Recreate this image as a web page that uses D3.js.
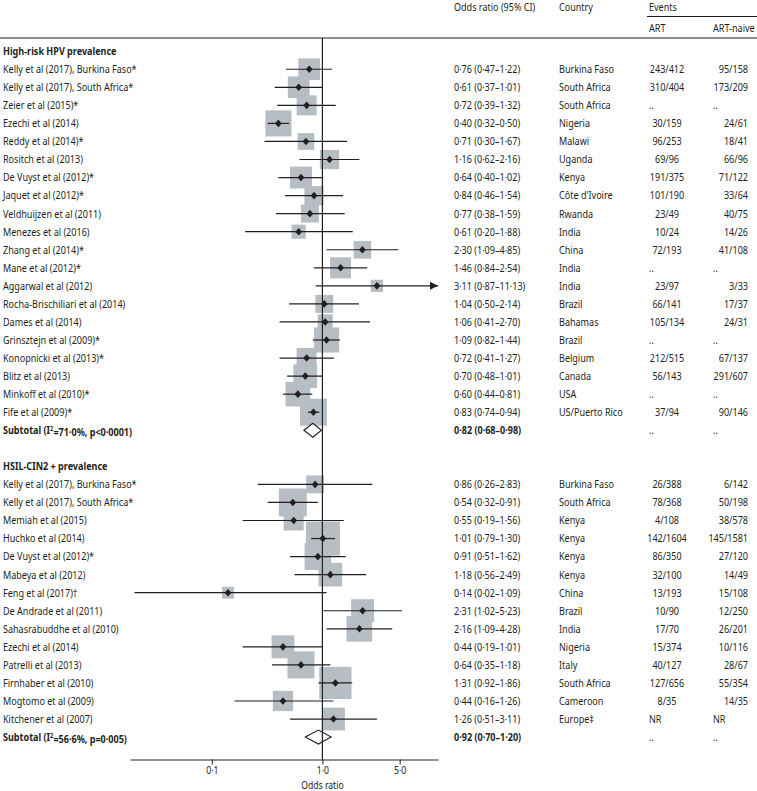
<!DOCTYPE html>
<html>
<head>
<meta charset="utf-8">
<script src="https://cdn.jsdelivr.net/npm/d3@7"></script>
<style>
  body { margin: 0; background: #fff; }
  svg { display: block; }
  text { font-family: "Noto Sans", "Open Sans", sans-serif; font-size: 11px; fill: #231f20; }
  .bold { font-weight: bold; }
  .axis-text { font-size: 10.5px; }
</style>
</head>
<body>
<div id="chart"></div>
<script>
// ---- data ----
var hpvStudies = [
  { study: "Kelly et al (2017), Burkina Faso*", or: 0.76, lo: 0.47, hi: 1.22, country: "Burkina Faso", art: "243/412", naive: "95/158", weight: 4.7 },
  { study: "Kelly et al (2017), South Africa*", or: 0.61, lo: 0.37, hi: 1.01, country: "South Africa", art: "310/404", naive: "173/209", weight: 4.7 },
  { study: "Zeier et al (2015)*", or: 0.72, lo: 0.39, hi: 1.32, country: "South Africa", art: "..", naive: "..", weight: 4.0 },
  { study: "Ezechi et al (2014)", or: 0.40, lo: 0.32, hi: 0.50, country: "Nigeria", art: "30/159", naive: "24/61", weight: 6.8 },
  { study: "Reddy et al (2014)*", or: 0.71, lo: 0.30, hi: 1.67, country: "Malawi", art: "96/253", naive: "18/41", weight: 2.8 },
  { study: "Rositch et al (2013)", or: 1.16, lo: 0.62, hi: 2.16, country: "Uganda", art: "69/96", naive: "66/96", weight: 3.7 },
  { study: "De Vuyst et al (2012)*", or: 0.64, lo: 0.40, hi: 1.02, country: "Kenya", art: "191/375", naive: "71/122", weight: 4.8 },
  { study: "Jaquet et al (2012)*", or: 0.84, lo: 0.46, hi: 1.54, country: "Côte d'Ivoire", art: "101/190", naive: "33/64", weight: 3.7 },
  { study: "Veldhuijzen et al (2011)", or: 0.77, lo: 0.38, hi: 1.59, country: "Rwanda", art: "23/49", naive: "40/75", weight: 3.2 },
  { study: "Menezes et al (2016)", or: 0.61, lo: 0.20, hi: 1.88, country: "India", art: "10/24", naive: "14/26", weight: 2.0 },
  { study: "Zhang et al (2014)*", or: 2.30, lo: 1.09, hi: 4.85, country: "China", art: "72/193", naive: "41/108", weight: 3.1 },
  { study: "Mane et al (2012)*", or: 1.46, lo: 0.84, hi: 2.54, country: "India", art: "..", naive: "..", weight: 4.4 },
  { study: "Aggarwal et al (2012)", or: 3.11, lo: 0.87, hi: 11.13, country: "India", art: "23/97", naive: "3/33", weight: 1.5 },
  { study: "Rocha-Brischiliari et al (2014)", or: 1.04, lo: 0.50, hi: 2.14, country: "Brazil", art: "66/141", naive: "17/37", weight: 3.2 },
  { study: "Dames et al (2014)", or: 1.06, lo: 0.41, hi: 2.70, country: "Bahamas", art: "105/134", naive: "24/31", weight: 2.3 },
  { study: "Grinsztejn et al (2009)*", or: 1.09, lo: 0.82, hi: 1.44, country: "Brazil", art: "..", naive: "..", weight: 6.3 },
  { study: "Konopnicki et al (2013)*", or: 0.72, lo: 0.41, hi: 1.27, country: "Belgium", art: "212/515", naive: "67/137", weight: 4.0 },
  { study: "Blitz et al (2013)", or: 0.70, lo: 0.48, hi: 1.01, country: "Canada", art: "56/143", naive: "291/607", weight: 5.6 },
  { study: "Minkoff et al (2010)*", or: 0.60, lo: 0.44, hi: 0.81, country: "USA", art: "..", naive: "..", weight: 6.1 },
  { study: "Fife et al (2009)*", or: 0.83, lo: 0.74, hi: 0.94, country: "US/Puerto Rico", art: "37/94", naive: "90/146", weight: 7.3 }
];
var hpvSubtotal = { i2: "71·0%", p: "p<0·0001", or: 0.82, lo: 0.68, hi: 0.98 };

var cinStudies = [
  { study: "Kelly et al (2017), Burkina Faso*", or: 0.86, lo: 0.26, hi: 2.83, country: "Burkina Faso", art: "26/388", naive: "6/142", weight: 3.2 },
  { study: "Kelly et al (2017), South Africa*", or: 0.54, lo: 0.32, hi: 0.91, country: "South Africa", art: "78/368", naive: "50/198", weight: 7.8 },
  { study: "Memiah et al (2015)", or: 0.55, lo: 0.19, hi: 1.56, country: "Kenya", art: "4/108", naive: "38/578", weight: 4.0 },
  { study: "Huchko et al (2014)", or: 1.01, lo: 0.79, hi: 1.30, country: "Kenya", art: "142/1604", naive: "145/1581", weight: 11.6 },
  { study: "De Vuyst et al (2012)*", or: 0.91, lo: 0.51, hi: 1.62, country: "Kenya", art: "86/350", naive: "27/120", weight: 7.1 },
  { study: "Mabeya et al (2012)", or: 1.18, lo: 0.56, hi: 2.49, country: "Kenya", art: "32/100", naive: "14/49", weight: 5.6 },
  { study: "Feng et al (2017)†", or: 0.14, lo: 0.02, hi: 1.09, country: "China", art: "13/193", naive: "15/108", weight: 1.4 },
  { study: "De Andrade et al (2011)", or: 2.31, lo: 1.02, hi: 5.23, country: "Brazil", art: "10/90", naive: "12/250", weight: 5.3 },
  { study: "Sahasrabuddhe et al (2010)", or: 2.16, lo: 1.09, hi: 4.28, country: "India", art: "17/70", naive: "26/201", weight: 6.6 },
  { study: "Ezechi et al (2014)", or: 0.44, lo: 0.19, hi: 1.01, country: "Nigeria", art: "15/374", naive: "10/116", weight: 5.2 },
  { study: "Patrelli et al (2013)", or: 0.64, lo: 0.35, hi: 1.18, country: "Italy", art: "40/127", naive: "28/67", weight: 7.3 },
  { study: "Firnhaber et al (2010)", or: 1.31, lo: 0.92, hi: 1.86, country: "South Africa", art: "127/656", naive: "55/354", weight: 10.4 },
  { study: "Mogtomo et al (2009)", or: 0.44, lo: 0.16, hi: 1.26, country: "Cameroon", art: "8/35", naive: "14/35", weight: 4.1 },
  { study: "Kitchener et al (2007)", or: 1.26, lo: 0.51, hi: 3.11, country: "Europe‡", art: "NR", naive: "NR", weight: 5.2 }
];
var cinSubtotal = { i2: "56·6%", p: "p=0·005", or: 0.92, lo: 0.70, hi: 1.20 };

var sections = [
  { title: "High-risk HPV prevalence", studies: hpvStudies, subtotal: hpvSubtotal },
  { title: "HSIL-CIN2 + prevalence", studies: cinStudies, subtotal: cinSubtotal }
];

var axisTicks = [0.1, 1, 5];
var axisTickLabels = ["0·1", "1·0", "5·0"];

// ---- layout ----
var width = 757, height = 791;
var rowTop = 51.2, rowH = 18.05;
var col = { study: 3, or: 454, country: 559, artL: 649, artMid: 667, naiveL: 713, naiveR: 748 };
var axisY = 759.5;

var svg = d3.select("#chart").append("svg")
  .attr("width", width)
  .attr("height", height);

// the original uses a condensed face; squeeze the installed font to the same width
var probe = svg.append("text").text("Burkina Faso");
var sx = 55 / probe.node().getComputedTextLength();
probe.remove();

function label(g, xPos, yPos, str, anchor, cls) {
  var t = g.append("text")
    .attr("transform", "translate(" + xPos + "," + yPos + ") scale(" + sx + ",1)")
    .attr("dy", "0.35em")
    .attr("text-anchor", anchor || "start");
  if (cls) t.attr("class", cls);
  if (str !== null) t.text(str);
  return t;
}

var x = d3.scaleLog()
  .domain([0.0182, 11.1])
  .range([130, 438]);

var side = d3.scaleSqrt().domain([0, 1]).range([0, 10]);

function dec(v) { return d3.format(".2f")(v).replace(".", "·"); }
function ciText(d) { return dec(d.or) + " (" + dec(d.lo) + "–" + dec(d.hi) + ")"; }

// build flat row list
var rows = [];
sections.forEach(function(s, si) {
  if (si > 0) rows.push({ type: "blank" });
  rows.push({ type: "title", label: s.title });
  s.studies.forEach(function(d) { rows.push(Object.assign({ type: "study" }, d)); });
  rows.push(Object.assign({ type: "subtotal" }, s.subtotal));
});
rows.forEach(function(r, i) { r.y = rowTop + i * rowH; });

// ---- header ----
var head = svg.append("g");
label(head, col.or, 7, "Odds ratio (95% CI)");
label(head, col.country, 7, "Country");
label(head, col.artL, 7, "Events");
label(head, col.artL, 28, "ART");
label(head, col.naiveL, 28, "ART-naive");
head.append("line").attr("x1", 647).attr("x2", width).attr("y1", 16.5).attr("y2", 16.5)
  .attr("stroke", "#231f20").attr("stroke-width", 1);
head.append("line").attr("x1", 0).attr("x2", width).attr("y1", 38).attr("y2", 38)
  .attr("stroke", "#231f20").attr("stroke-width", 1.2);

// ---- study marks ----
var studyRows = rows.filter(function(r) { return r.type === "study"; });
var marks = svg.append("g");

// grey weight squares
marks.selectAll("rect.w")
  .data(studyRows)
  .enter().append("rect")
  .attr("class", "w")
  .attr("x", function(d) { return x(d.or) - side(d.weight) / 2; })
  .attr("y", function(d) { return d.y - side(d.weight) / 2; })
  .attr("width", function(d) { return side(d.weight); })
  .attr("height", function(d) { return side(d.weight); })
  .attr("fill", "#b6bdc3");

// CI lines, clamped to the axis range
var dom = x.domain();
marks.selectAll("line.ci")
  .data(studyRows)
  .enter().append("line")
  .attr("class", "ci")
  .attr("x1", function(d) { return x(Math.max(d.lo, dom[0])); })
  .attr("x2", function(d) { return x(Math.min(d.hi, dom[1])); })
  .attr("y1", function(d) { return d.y; })
  .attr("y2", function(d) { return d.y; })
  .attr("stroke", "#231f20")
  .attr("stroke-width", 1.2);

// arrows where CI runs off the axis
var arrowRows = studyRows.filter(function(d) { return d.lo < dom[0] || d.hi > dom[1]; });
marks.selectAll("path.arrow")
  .data(arrowRows)
  .enter().append("path")
  .attr("class", "arrow")
  .attr("d", function(d) {
    if (d.hi > dom[1]) {
      var xe = x(dom[1]);
      return "M" + xe + "," + d.y + "L" + (xe - 8) + "," + (d.y - 4) + "L" + (xe - 8) + "," + (d.y + 4) + "Z";
    }
    var xs = x(dom[0]);
    return "M" + xs + "," + d.y + "L" + (xs + 8) + "," + (d.y - 4) + "L" + (xs + 8) + "," + (d.y + 4) + "Z";
  })
  .attr("fill", "#231f20");

// point estimate diamonds
marks.selectAll("path.pt")
  .data(studyRows)
  .enter().append("path")
  .attr("class", "pt")
  .attr("d", function(d) {
    var cx = x(d.or), hw = 3.4, hh = 3.8;
    return "M" + (cx - hw) + "," + d.y + "L" + cx + "," + (d.y - hh) + "L" + (cx + hw) + "," + d.y + "L" + cx + "," + (d.y + hh) + "Z";
  })
  .attr("fill", "#231f20");

// subtotal diamonds
var subRows = rows.filter(function(r) { return r.type === "subtotal"; });
marks.selectAll("path.sub")
  .data(subRows)
  .enter().append("path")
  .attr("class", "sub")
  .attr("d", function(d) {
    var hh = 7;
    return "M" + x(d.lo) + "," + d.y + "L" + x(d.or) + "," + (d.y - hh) + "L" + x(d.hi) + "," + d.y + "L" + x(d.or) + "," + (d.y + hh) + "Z";
  })
  .attr("fill", "#fff")
  .attr("stroke", "#231f20")
  .attr("stroke-width", 1.1);

// ---- axis ----
var axis = d3.axisBottom(x)
  .tickValues(axisTicks)
  .tickFormat(function(d, i) { return axisTickLabels[i]; })
  .tickSize(5)
  .tickSizeOuter(0);

var gAxis = svg.append("g")
  .attr("transform", "translate(0," + axisY + ")")
  .call(axis);
gAxis.select(".domain").attr("stroke", "#6d6e71").attr("stroke-width", 1.4);
gAxis.selectAll(".tick line").attr("stroke", "#231f20");
gAxis.selectAll(".tick text")
  .attr("class", "axis-text")
  .attr("font-family", null).attr("font-size", null)
  .attr("y", 0).attr("dy", "0.35em")
  .attr("transform", "translate(0,11) scale(" + sx + ",1)");

label(svg, x(1), 785, "Odds ratio", "middle", "axis-text");

// reference line at OR = 1
svg.append("line")
  .attr("x1", x(1)).attr("x2", x(1))
  .attr("y1", 38).attr("y2", axisY)
  .attr("stroke", "#231f20").attr("stroke-width", 1.2);

// ---- text columns ----
var txt = svg.append("g");

rows.forEach(function(r) {
  if (r.type === "title") {
    label(txt, col.study, r.y, r.label, "start", "bold");
  } else if (r.type === "study") {
    label(txt, col.study, r.y, r.study);
    label(txt, col.or, r.y, ciText(r));
    label(txt, col.country, r.y, r.country);
    var isDots = r.art === ".." || r.art === "NR";
    label(txt, isDots ? col.artL : col.artMid, r.y, r.art, isDots ? "start" : "middle");
    var nDots = r.naive === ".." || r.naive === "NR";
    label(txt, nDots ? col.naiveL : col.naiveR, r.y, r.naive, nDots ? "start" : "end");
  } else if (r.type === "subtotal") {
    var t = label(txt, col.study, r.y, null, "start", "bold");
    t.append("tspan").text("Subtotal (I");
    t.append("tspan").attr("dy", "-0.4em").attr("font-size", "7px").text("2");
    t.append("tspan").attr("dy", "0.4em").text("=" + r.i2 + ", " + r.p + ")");
    label(txt, col.or, r.y, ciText(r), "start", "bold");
    label(txt, col.artL, r.y, "..");
    label(txt, col.naiveL, r.y, "..");
  }
});
</script>
</body>
</html>
